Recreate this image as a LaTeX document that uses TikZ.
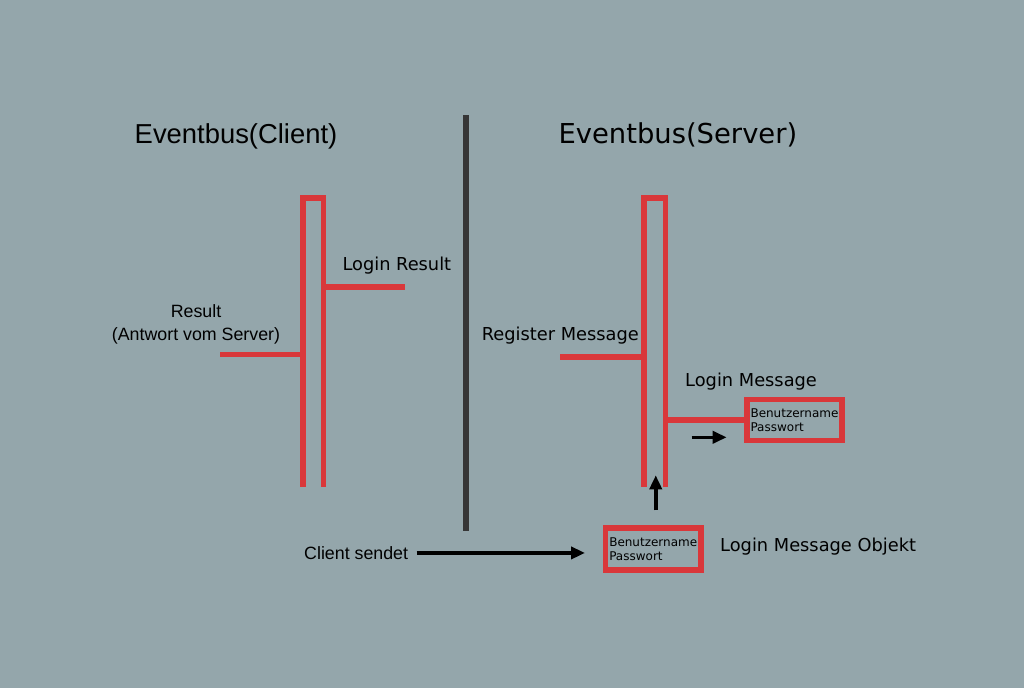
\documentclass[tikz,border=0pt]{standalone}
\usepackage{fontspec}
\setmainfont{DejaVu Sans}
\newfontfamily\arialfont{Liberation Sans}
\usetikzlibrary{arrows.meta, positioning}
\definecolor{busBg}{RGB}{148, 166, 171}
\definecolor{busRed}{RGB}{217, 55, 58}
\definecolor{busDark}{RGB}{54, 54, 54}

\begin{document}
\begin{tikzpicture}[
        x=1pt, y=-1pt,
        redline/.style={draw=busRed, line width=5.5pt},
        msgbox/.style={rectangle, draw=busRed, line width=5.5pt, minimum width=95pt, minimum height=41pt, inner sep=0pt, align=left, font=\fontsize{12}{14}\selectfont},
        lbl/.style={inner sep=0pt, anchor=base west, font=\fontsize{17.8}{21}\selectfont},
        lblA/.style={inner sep=0pt, anchor=base west, font=\arialfont\fontsize{17.8}{21}\selectfont},
        arrow/.style={-{Triangle[length=14pt, width=12pt]}, line width=3.5pt, black}
    ]
        % Background
        \fill[busBg] (0,0) rectangle (1024,688);
        \useasboundingbox (0,0) rectangle (1024,688);

        % Titles
        \node[inner sep=0pt, anchor=base, font=\arialfont\fontsize{27.4}{30}\selectfont] (titleClient) at (236,143.3) {Eventbus(Client)};
        \node[inner sep=0pt, anchor=base west, font=\fontsize{27.4}{30}\selectfont] (titleServer) at (558.3,143.3) {Eventbus(Server)};

        % Divider
        \coordinate (divTop) at (466,115);
        \coordinate (divBot) at (466,530.7);
        \draw[busDark, line width=6.5pt] (divTop) -- (divBot);

        % Client bus
        \coordinate (cliL) at (302.8,486.7);
        \coordinate (cliR) at (323.7,486.7);
        \coordinate (cliTop) at (313,197.8);
        \draw[redline] (cliL) |- (cliTop) -| (cliR);
        \coordinate (resEnd) at (220,354.5);
        \coordinate (lresEnd) at (405,287);
        \draw[redline] (resEnd) -- (resEnd -| cliL);
        \draw[redline] (lresEnd -| cliR) -- (lresEnd);

        % Client labels
        \node[lbl] (loginRes) at (342.3,270) {Login Result};
        \node[lblA, anchor=base] (resTop) at (196,317.7) {Result};
        \node[lblA, anchor=base] (resSub) at (196,340) {(Antwort vom Server)};
        \node[lblA] (sendet) at (304,559.3) {Client sendet};

        % Server bus
        \coordinate (srvL) at (644.2,486.7);
        \coordinate (srvR) at (665.5,486.7);
        \coordinate (srvTop) at (655,197.8);
        \draw[redline] (srvL) |- (srvTop) -| (srvR);
        \coordinate (regEnd) at (560,357);
        \draw[redline] (regEnd) -- (regEnd -| srvL);

        % Message boxes
        \node[msgbox] (loginBox) at (794.5,420) {Benutzername\\Passwort};
        \node[msgbox, minimum width=95.5pt, minimum height=42pt] (objBox) at (653.25,549) {Benutzername\\Passwort};
        \draw[redline] (loginBox.west -| srvR) -- (loginBox.west);

        % Server labels
        \node[lbl] (regMsg) at (481.7,340.7) {Register Message};
        \node[lbl] (loginMsg) at (685,386.7) {Login Message};
        \node[lbl] (objLabel) at (720,551.7) {Login Message Objekt};

        % Arrows
        \coordinate (fwdTail) at (691.7,437.3);
        \coordinate (fwdHead) at (726.7,437.3);
        \draw[arrow] (fwdTail) -- (fwdHead);
        \draw[arrow, shorten <=15pt] ([xshift=2.5pt]objBox.north) -- ++(0,-50);
        \draw[arrow, shorten <=8.3pt, shorten >=17.7pt] (sendet.east) -- (sendet.east -| objBox.west);
    \end{tikzpicture}
\end{document}
